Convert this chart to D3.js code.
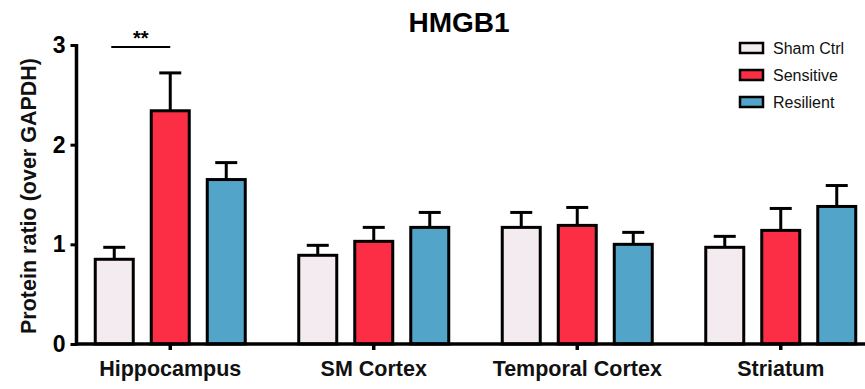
<!DOCTYPE html>
<html><head><meta charset="utf-8">
<script src="https://cdn.jsdelivr.net/npm/d3@7"></script>
<style>body{margin:0;background:#fff}svg{display:block}text{font-family:"Liberation Sans",Arial,sans-serif}</style>
</head><body><svg id="c" width="865" height="389"></svg>
<script>
const categories = ["Hippocampus","SM Cortex","Temporal Cortex","Striatum"];
const series = ["Sham Ctrl","Sensitive","Resilient"];
const colors = ["#f4ebf0","#fc2e45","#52a4c8"];
const means = {
  "Sham Ctrl": [0.85, 0.89, 1.17, 0.97],
  "Sensitive": [2.34, 1.03, 1.19, 1.14],
  "Resilient": [1.65, 1.17, 1.00, 1.38]
};
const errors = {
  "Sham Ctrl": [0.12, 0.10, 0.15, 0.11],
  "Sensitive": [0.38, 0.14, 0.18, 0.22],
  "Resilient": [0.17, 0.15, 0.12, 0.21]
};
const yTicks = [0,1,2,3];

const svg = d3.select("#c");
const y = d3.scaleLinear().domain([0,3]).range([344,45]);
const x0 = d3.scaleBand().domain(categories).range([68.5,882.5]).padding(0);
const x1 = d3.scalePoint().domain(series).range([-56,56]);
const bw = 38;

// title
svg.append("text").attr("x",459).attr("y",32).attr("text-anchor","middle")
  .attr("font-size",28).attr("font-weight","bold").text("HMGB1");

// bars
series.forEach((s,si)=>{
  categories.forEach((c,ci)=>{
    const cx = x0(c)+x0.bandwidth()/2 + x1(s);
    const v = means[s][ci], e = errors[s][ci];
    const g = svg.append("g");
    g.append("line").attr("x1",cx).attr("x2",cx).attr("y1",y(v)).attr("y2",y(v+e))
      .attr("stroke","#000").attr("stroke-width",3);
    g.append("line").attr("x1",cx-11).attr("x2",cx+11).attr("y1",y(v+e)).attr("y2",y(v+e))
      .attr("stroke","#000").attr("stroke-width",3);
    g.append("rect").attr("x",cx-bw/2).attr("width",bw).attr("y",y(v)).attr("height",y(0)-y(v))
      .attr("fill",colors[si]).attr("stroke","#000").attr("stroke-width",3);
  });
});

// y axis
const ya = svg.append("g").attr("transform","translate(76.5,0)")
  .call(d3.axisLeft(y).tickValues(yTicks).tickFormat(d3.format("d")).tickSize(6).tickPadding(5));
ya.select(".domain").attr("stroke-width",3.5).attr("d","M0,"+(y(3)-1)+"V"+(y(0)+1.5));
ya.selectAll(".tick line").attr("stroke-width",3);
ya.selectAll(".tick text").attr("font-size",23).attr("font-weight","bold").attr("fill","#000");

// x axis
const xa = svg.append("g").attr("transform","translate(0,344)")
  .call(d3.axisBottom(x0).tickSize(6).tickPadding(11));
xa.select(".domain").attr("stroke-width",3.5).attr("d","M75,0H865");
xa.selectAll(".tick line").attr("stroke-width",3.5);
xa.selectAll(".tick text").attr("font-size",21.5).attr("font-weight","bold").attr("fill","#111");

// y label
svg.append("text").attr("transform","translate(36,196) rotate(-90)").attr("text-anchor","middle")
  .attr("font-size",21.5).attr("font-weight","bold").attr("fill","#111").text("Protein ratio (over GAPDH)");

// significance
const sx1 = x0("Hippocampus")+x0.bandwidth()/2 + x1("Sham Ctrl")-3;
const sx2 = x0("Hippocampus")+x0.bandwidth()/2;
svg.append("line").attr("x1",sx1).attr("x2",sx2).attr("y1",47).attr("y2",47).attr("stroke","#000").attr("stroke-width",2);
svg.append("text").attr("x",(sx1+sx2)/2).attr("y",45).attr("text-anchor","middle")
  .attr("font-size",20).attr("font-weight","bold").text("**");

// legend
const lg = svg.append("g").attr("transform","translate(740,0)");
series.forEach((s,i)=>{
  const yy = 48 + i*27;
  lg.append("rect").attr("x",0).attr("y",yy-5).attr("width",23).attr("height",10)
    .attr("fill",colors[i]).attr("stroke","#000").attr("stroke-width",2.5);
  lg.append("text").attr("x",33).attr("y",yy+6).attr("font-size",16).attr("fill","#111").text(s);
});
</script></body></html>
